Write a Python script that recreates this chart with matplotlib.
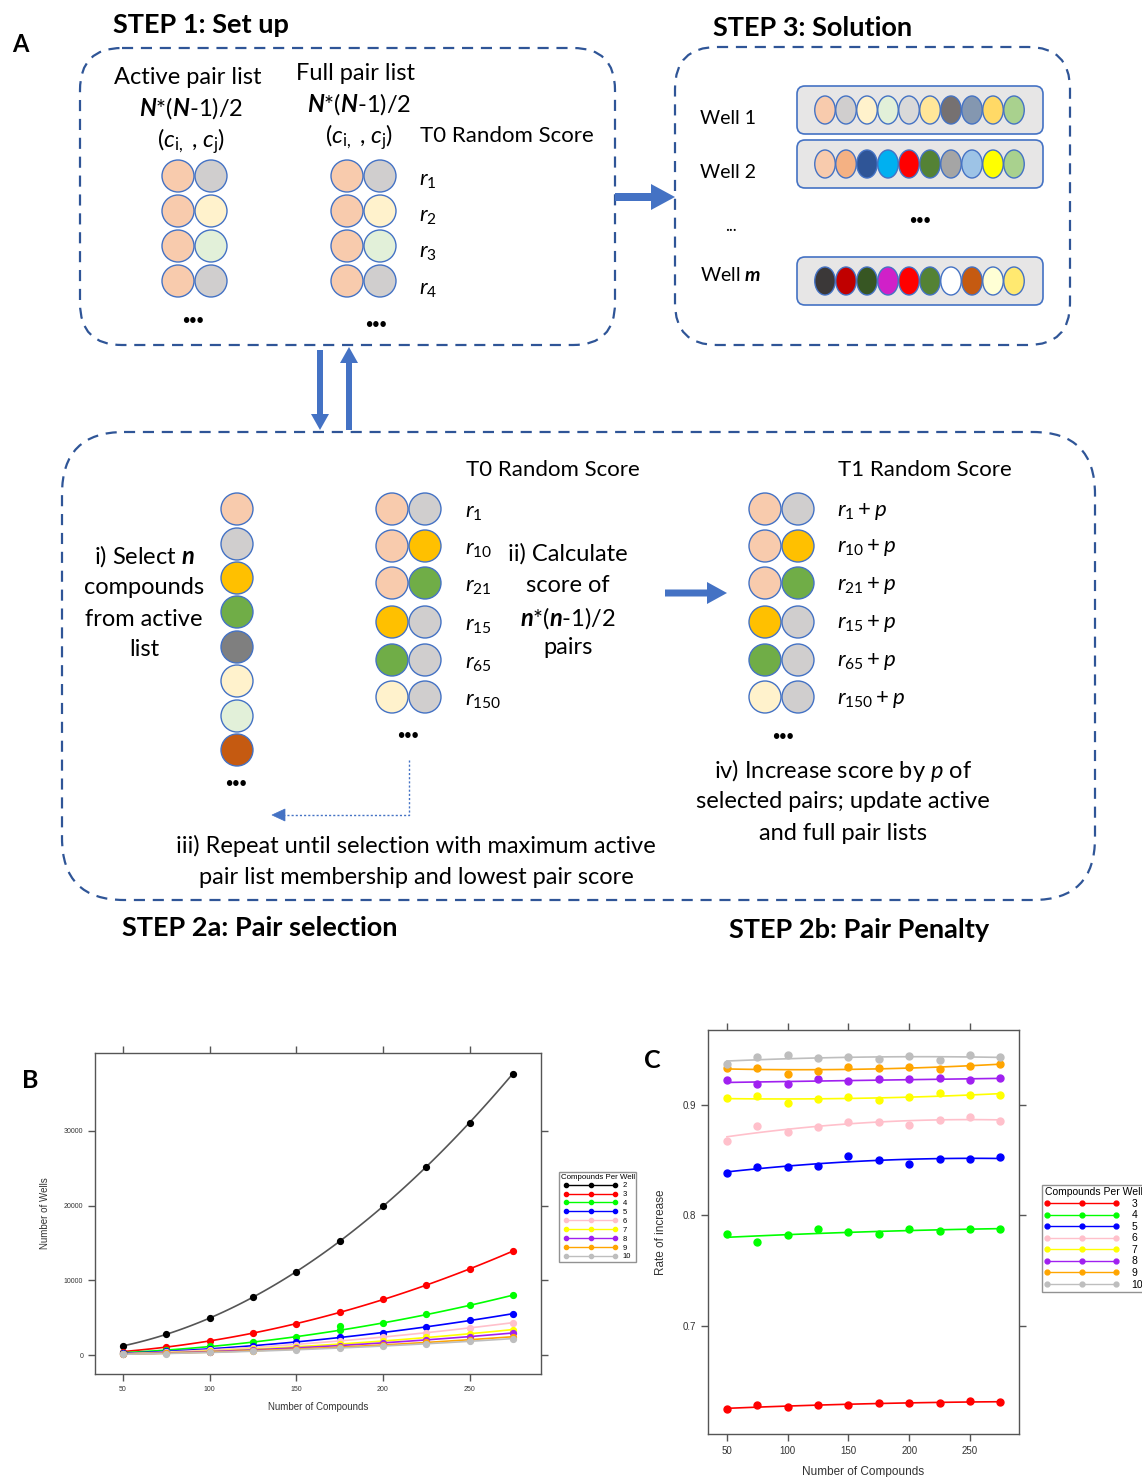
import numpy as np
import matplotlib
matplotlib.use("Agg")
import matplotlib.pyplot as plt
from matplotlib.patches import Circle, Ellipse, FancyBboxPatch, FancyArrow, Polygon
from matplotlib.lines import Line2D

plt.rcParams['font.family'] = ['Lato', 'DejaVu Sans']
plt.rcParams['mathtext.fontset'] = 'custom'
plt.rcParams['mathtext.rm'] = 'Lato'
plt.rcParams['mathtext.it'] = 'Lato:italic'
plt.rcParams['mathtext.bf'] = 'Lato:bold'
plt.rcParams['mathtext.bfit'] = 'Lato:italic:bold'

# ---- data for panels B and C ----
compounds = [50, 75, 100, 125, 150, 175, 200, 225, 250, 275]
per_well_B = ["2", "3", "4", "5", "6", "7", "8", "9", "10"]
per_well_C = ["3", "4", "5", "6", "7", "8", "9", "10"]
series_colors = ["black", "red", "#00FF00", "blue", "pink", "yellow", "#A020F0", "orange", "#BEBEBE"]

wells_2 = [1225, 2775, 4950, 7750, 11175, 15225, 19900, 25200, 31125, 37675]
wells_3 = [450, 1100, 1900, 2900, 4200, 5700, 7450, 9350, 11550, 13900]
wells_4 = [300, 700, 1150, 1700, 2450, 3300, 4300, 5450, 6650, 8000]
wells_5 = [250, 500, 800, 1250, 1750, 2350, 3000, 3800, 4650, 5500]
wells_6 = [200, 400, 650, 1000, 1400, 1900, 2450, 3000, 3650, 4300]
wells_7 = [150, 320, 520, 800, 1100, 1450, 1900, 2350, 2850, 3400]
wells_8 = [130, 280, 450, 700, 950, 1250, 1650, 2050, 2450, 2950]
wells_9 = [110, 230, 380, 580, 800, 1050, 1350, 1700, 2050, 2450]
wells_10 = [100, 200, 340, 520, 700, 950, 1200, 1500, 1850, 2200]
wells_4_repeat = (175, 3900)

rate_3 = [0.6244, 0.6280, 0.6268, 0.6280, 0.6283, 0.6304, 0.6298, 0.6304, 0.6316, 0.6310]
rate_4 = [0.7831, 0.7762, 0.7819, 0.7880, 0.7849, 0.7831, 0.7880, 0.7858, 0.7880, 0.7880]
rate_5 = [0.8386, 0.8437, 0.8437, 0.8446, 0.8539, 0.8506, 0.8470, 0.8515, 0.8509, 0.8530]
rate_6 = [0.8678, 0.8810, 0.8759, 0.8804, 0.8849, 0.8843, 0.8822, 0.8867, 0.8895, 0.8858]
rate_7 = [0.9060, 0.9081, 0.9018, 0.9054, 0.9075, 0.9045, 0.9075, 0.9111, 0.9090, 0.9090]
rate_8 = [0.9223, 0.9193, 0.9193, 0.9232, 0.9217, 0.9232, 0.9232, 0.9247, 0.9226, 0.9241]
rate_9 = [0.9337, 0.9337, 0.9277, 0.9310, 0.9346, 0.9340, 0.9346, 0.9331, 0.9355, 0.9370]
rate_10 = [0.9370, 0.9431, 0.9449, 0.9425, 0.9431, 0.9419, 0.9440, 0.9410, 0.9458, 0.9434]

wells_all = [wells_2, wells_3, wells_4, wells_5, wells_6, wells_7, wells_8, wells_9, wells_10]
rates_all = [rate_3, rate_4, rate_5, rate_6, rate_7, rate_8, rate_9, rate_10]

# ---- diagram colours ----
BLUE = "#4472C4"
DASH = "#2F5597"
PEACH, GREY, CREAM, LGREEN = "#F8CBAD", "#D0CECE", "#FFF2CC", "#E2F0D9"
GOLD, GREEN, DGREY, RUST = "#FFC000", "#70AD47", "#7F7F7F", "#C55A11"

well_1 = ["#F8CBAD", "#D0CECE", "#FFF2CC", "#E2F0D9", "#D9D9D9", "#FFE699", "#767171", "#8497B0", "#FFD966", "#A9D18E"]
well_2 = ["#F8CBAD", "#F4B183", "#2F5597", "#00B0F0", "#FF0000", "#548235", "#A5A5A5", "#9DC3E6", "#FFFF00", "#A9D18E"]
well_m = ["#3B3838", "#C00000", "#375623", "#D020C8", "#FF0000", "#548235", "#FFFFFF", "#C55A11", "#FFFFD5", "#FFE970"]

fig = plt.figure(figsize=(11.42, 14.77), dpi=100)

# full-page axes in pixel units for the schematic
ax = fig.add_axes([0, 0, 1, 1])
ax.set_xlim(0, 1142)
ax.set_ylim(1477, 0)
ax.axis("off")

FS = 17
FSB = 19.5


def dbox(x0, y0, x1, y1, r):
    ax.add_patch(FancyBboxPatch((x0, y0), x1 - x0, y1 - y0,
                                boxstyle=f"round,pad=0,rounding_size={r}",
                                fill=False, ec=DASH, lw=1.6, ls=(0, (5, 3.5))))


def dot(x, y, c, r=16):
    ax.add_patch(Circle((x, y), r, fc=c, ec=BLUE, lw=1))


def txt(x, y, s, ha="center", size=FS, **kw):
    ax.text(x, y, s, ha=ha, va="center", fontsize=size, **kw)


def dots3(x, y):
    txt(x, y, "•••", size=9, fontweight="bold")


# panel letters and step titles
txt(20, 45, "A", size=17, fontweight="bold")
txt(113, 25, "STEP 1: Set up", ha="left", size=FSB, fontweight="bold")
txt(713, 28, "STEP 3: Solution", ha="left", size=FSB, fontweight="bold")
txt(122, 928, "STEP 2a: Pair selection", ha="left", size=FSB, fontweight="bold")
txt(729, 930, "STEP 2b: Pair Penalty", ha="left", size=FSB, fontweight="bold")

# STEP 1
dbox(80, 48, 615, 345, 42)
pair_rows = [176, 211, 246, 281]
pair_right = [GREY, CREAM, LGREEN, GREY]
for cx, head in [(194, "Active pair list"), (362, "Full pair list")]:
    yoff = 0 if cx < 300 else -4
    txt(cx - 6, 77 + yoff, head)
    txt(cx - 3, 108 + yoff, r"$\mathbfit{N}$*($\mathbfit{N}$-1)/2")
    txt(cx - 3, 141 + yoff, r"($\mathit{c}_{\mathrm{i,}}$ , $\mathit{c}_{\mathrm{j}}$)")
for x0 in [178, 347]:
    for y, c in zip(pair_rows, pair_right):
        dot(x0, y, PEACH)
        dot(x0 + 33, y, c)
dots3(193, 320)
dots3(376, 324)
txt(420, 136, "T0 Random Score", ha="left", size=16)
for i, y in enumerate([181, 217, 253, 290]):
    txt(419, y, rf"$\mathit{{r}}_{{{i + 1}}}$", ha="left", size=16)

# STEP 3
dbox(675, 47, 1070, 345, 42)
for y, lab, cols in [(118, "Well 1", well_1), (172, "Well 2", well_2), (275, r"Well $\mathbfit{m}$", well_m)]:
    txt(700, y, lab, ha="left", size=14)
    cy = y - 8 if y < 200 else y + 6
    ax.add_patch(FancyBboxPatch((797, cy - 24), 246, 48, boxstyle="round,pad=0,rounding_size=8",
                                fc="#E7E6E6", ec=BLUE, lw=1.2))
    for k, c in enumerate(cols):
        ax.add_patch(Ellipse((825 + 21 * k, cy), 20.5, 28, fc=c, ec=BLUE, lw=1))
txt(731, 226, "...", size=12)
dots3(920, 220)

ax.add_patch(FancyArrow(615, 197, 60, 0, width=8, head_width=26, head_length=24,
                        length_includes_head=True, color=BLUE, lw=0))
ax.add_patch(FancyArrow(320, 350, 0, 80, width=6, head_width=18, head_length=16,
                        length_includes_head=True, color=BLUE, lw=0))
ax.add_patch(FancyArrow(349, 430, 0, -83, width=6, head_width=18, head_length=16,
                        length_includes_head=True, color=BLUE, lw=0))

# STEP 2
dbox(62, 432, 1095, 900, 62)
for y, s in zip([556, 588, 620, 650],
                [r"i) Select $\mathbfit{n}$", "compounds", "from active", "list"]):
    txt(144, y, s)
for y, c in zip([509, 544, 578, 612, 647, 681, 716, 750],
                [PEACH, GREY, GOLD, GREEN, DGREY, CREAM, LGREEN, RUST]):
    dot(237, y, c)
dots3(236, 783)

sel_rows = [509, 546, 583, 622, 660, 697]
sel_pairs = [(PEACH, GREY), (PEACH, GOLD), (PEACH, GREEN), (GOLD, GREY), (GREEN, GREY), (CREAM, GREY)]
sel_idx = ["1", "10", "21", "15", "65", "150"]
txt(466, 470, "T0 Random Score", ha="left", size=16)
txt(838, 470, "T1 Random Score", ha="left", size=16)
for y, (c1, c2), k in zip(sel_rows, sel_pairs, sel_idx):
    dot(392, y, c1)
    dot(425, y, c2)
    dot(765, y, c1)
    dot(798, y, c2)
    txt(465, y + 4, rf"$\mathit{{r}}_{{{k}}}$", ha="left", size=16)
    txt(837, y + 2, rf"$\mathit{{r}}_{{{k}}} + \mathit{{p}}$", ha="left", size=16)
dots3(408, 735)
dots3(783, 736)

for y, s in zip([554, 586, 618, 648],
                ["ii) Calculate", "score of", r"$\mathbfit{n}$*($\mathbfit{n}$-1)/2", "pairs"]):
    txt(568, y, s)
ax.add_patch(FancyArrow(665, 593, 62, 0, width=7, head_width=22, head_length=20,
                        length_includes_head=True, color=BLUE, lw=0))

ax.plot([409, 409, 284], [760, 815, 815], color=BLUE, lw=1, ls=(0, (1.5, 1.5)))
ax.add_patch(Polygon([[272, 815], [285, 809], [285, 821]], closed=True, fc=BLUE, ec=BLUE, lw=0.5))

for y, s in zip([770, 802, 834],
                [r"iv) Increase score by $\mathit{p}$ of", "selected pairs; update active", "and full pair lists"]):
    txt(843, y, s)
for y, s in zip([846, 878],
                ["iii) Repeat until selection with maximum active", "pair list membership and lowest pair score"]):
    txt(416, y, s)

txt(30, 1080, "B", size=18, fontweight="bold")
txt(652, 1060, "C", size=18, fontweight="bold")

# ---- lattice-style line plots ----
W, H = 1142, 1477
xfine = np.linspace(50, 275, 120)


def lattice_axes(box, xlim, ylim, yticks, lsize):
    x0, y0, x1, y1 = box
    a = fig.add_axes([x0 / W, 1 - y1 / H, (x1 - x0) / W, (y1 - y0) / H])
    a.set_xlim(*xlim)
    a.set_ylim(*ylim)
    a.set_xticks([50, 100, 150, 200, 250])
    a.set_yticks(yticks)
    for sp in a.spines.values():
        sp.set_color("#555555")
        sp.set_linewidth(1)
    a.tick_params(direction="out", length=5, width=1, color="#555555", top=True, right=True,
                  labelsize=lsize, labelcolor="#333333")
    return a


axB = lattice_axes((95, 1053, 541, 1374), (33.8, 291.2), (-2540, 40430),
                   [0, 10000, 20000, 30000], 5)
for vals, col in zip(wells_all, series_colors):
    fit = np.polyval(np.polyfit(compounds, vals, 2), xfine)
    axB.plot(xfine, fit, color="#555555" if col == "black" else col, lw=1.2, zorder=2)
    axB.plot(compounds, vals, "o", color=col, ms=4.2, zorder=3)
axB.plot(*wells_4_repeat, "o", color=series_colors[2], ms=4.2, zorder=3)
axB.set_xlabel("Number of Compounds", fontsize=7, family="Liberation Sans", color="#333333")
axB.set_ylabel("Number of Wells", fontsize=7, family="Liberation Sans", color="#333333")
axB.xaxis.set_label_coords(0.5, -0.087)
axB.yaxis.set_label_coords(-0.1, 0.5)
for t in axB.get_xticklabels() + axB.get_yticklabels():
    t.set_family("Liberation Sans")

handlesB = [Line2D([0], [0], color=c, marker="o", ms=3, lw=1) for c in series_colors]
legB = axB.legend(handlesB, per_well_B, title="Compounds Per Well", numpoints=3,
                  loc="upper left", bbox_to_anchor=(559 / W, 1 - 1172 / H),
                  bbox_transform=fig.transFigure, fontsize=5.5, title_fontsize=5.7,
                  handlelength=7, handletextpad=0.7, labelspacing=0.2,
                  borderpad=0.2, fancybox=False, edgecolor="#777777", borderaxespad=0)
legB.get_frame().set_linewidth(1)
for t in legB.get_texts() + [legB.get_title()]:
    t.set_family("Liberation Sans")

axC = lattice_axes((708, 1030, 1019, 1434), (34.4, 290.3), (0.602, 0.968),
                   [0.7, 0.8, 0.9], 7)
for vals, col in zip(rates_all, series_colors[1:]):
    fit = np.polyval(np.polyfit(compounds, vals, 2), xfine)
    axC.plot(xfine, fit, color=col, lw=1.2, zorder=2)
    axC.plot(compounds, vals, "o", color=col, ms=5, zorder=3)
axC.set_xlabel("Number of Compounds", fontsize=8.5, family="Liberation Sans", color="#333333")
axC.set_ylabel("Rate of increase", fontsize=8.5, family="Liberation Sans", color="#333333")
axC.xaxis.set_label_coords(0.5, -0.078)
axC.yaxis.set_label_coords(-0.132, 0.5)
for t in axC.get_xticklabels() + axC.get_yticklabels():
    t.set_family("Liberation Sans")

handlesC = [Line2D([0], [0], color=c, marker="o", ms=3.5, lw=1) for c in series_colors[1:]]
legC = axC.legend(handlesC, per_well_C, title="Compounds Per Well", numpoints=3,
                  loc="upper left", bbox_to_anchor=(1042 / W, 1 - 1185 / H),
                  bbox_transform=fig.transFigure, fontsize=7.5, title_fontsize=7.5,
                  handlelength=7.2, handletextpad=1.2, labelspacing=0.15,
                  borderpad=0.2, fancybox=False, edgecolor="#777777", borderaxespad=0)
legC.get_frame().set_linewidth(1)
for t in legC.get_texts() + [legC.get_title()]:
    t.set_family("Liberation Sans")

fig.savefig("out.png", dpi=100)
